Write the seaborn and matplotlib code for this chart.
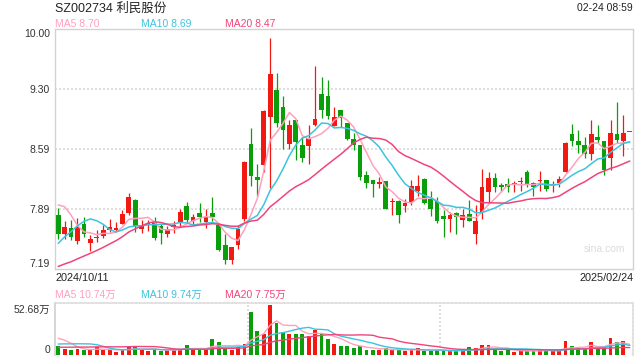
import numpy as np
import pandas as pd
import matplotlib
matplotlib.use("Agg")
import matplotlib.pyplot as plt
import matplotlib.transforms as mtransforms
import seaborn as sns

# ---------------- data ----------------
title = "SZ002734 利民股份"
stamp = "02-24 08:59"
start_label = "2024/10/11"
end_label = "2025/02/24"

opens = [7.82, 7.60, 7.665, 7.52, 7.715, 7.49, 7.555, 7.575, 7.645, 7.65,
         7.72, 7.85, 8.00, 7.66, 7.70, 7.74, 7.695, 7.605, 7.685, 7.725,
         7.925, 7.755, 7.845, 7.745, 7.84, 7.70, 7.47, 7.295, 7.47, 7.775,
         8.655, 8.27, 8.41, 8.97, 9.285, 9.085, 8.655, 8.935, 8.64, 8.635,
         8.875, 9.24, 9.215, 8.865, 9.05, 8.90, 8.71, 8.64, 8.29, 8.23,
         8.185, 8.22, 7.975, 7.985, 7.93, 7.98, 8.105, 8.245, 8.01, 7.985,
         7.815, 7.78, 7.84, 7.765, 7.835, 7.60, 7.86, 8.095, 8.25, 8.175,
         8.18, 8.185, 8.205, 8.33, 8.195, 8.215, 8.23, 8.165, 8.20, 8.32,
         8.77, 8.69, 8.64, 8.535, 8.73, 8.69, 8.495, 8.765, 8.69, 8.79]
closes = [7.60, 7.68, 7.565, 7.68, 7.60, 7.54, 7.57, 7.645, 7.68, 7.67,
          7.835, 8.03, 7.695, 7.69, 7.725, 7.555, 7.61, 7.655, 7.70, 7.86,
          7.765, 7.80, 7.795, 7.80, 7.80, 7.41, 7.295, 7.45, 7.66, 8.445,
          8.28, 8.235, 9.045, 9.475, 8.905, 8.815, 8.875, 8.675, 8.485, 8.72,
          8.945, 9.05, 8.985, 8.965, 8.955, 8.71, 8.645, 8.27, 8.20, 8.185,
          8.21, 7.89, 7.99, 7.82, 7.96, 8.16, 8.16, 7.965, 7.895, 7.755,
          7.78, 7.82, 7.80, 7.82, 7.755, 7.75, 8.155, 8.25, 8.155, 8.155,
          8.155, 8.20, 8.215, 8.175, 8.145, 8.225, 8.13, 8.18, 8.24, 8.67,
          8.69, 8.64, 8.535, 8.77, 8.70, 8.35, 8.785, 8.70, 8.785, 8.79]
highs = [7.90, 7.75, 7.76, 7.79, 7.80, 7.59, 7.645, 7.71, 7.77, 7.74,
         7.88, 8.08, 8.015, 7.765, 7.765, 7.795, 7.715, 7.695, 7.75, 7.89,
         7.98, 7.83, 7.96, 7.89, 8.03, 7.70, 7.605, 7.45, 7.705, 8.455,
         8.845, 8.42, 9.05, 9.89, 9.49, 9.22, 8.935, 8.935, 8.73, 8.875,
         9.57, 9.44, 9.40, 9.09, 9.05, 8.90, 8.78, 8.64, 8.34, 8.23,
         8.265, 8.22, 8.025, 8.00, 8.015, 8.23, 8.29, 8.25, 8.105, 8.035,
         7.875, 7.86, 7.86, 7.89, 8.00, 7.945, 8.36, 8.33, 8.31, 8.20,
         8.25, 8.215, 8.27, 8.35, 8.21, 8.34, 8.23, 8.225, 8.28, 8.68,
         8.89, 8.815, 8.74, 8.94, 8.875, 8.69, 8.935, 9.145, 8.99, 8.79]
lows = [7.54, 7.545, 7.53, 7.48, 7.57, 7.405, 7.51, 7.555, 7.625, 7.63,
        7.715, 7.825, 7.625, 7.61, 7.64, 7.53, 7.485, 7.57, 7.61, 7.68,
        7.725, 7.70, 7.745, 7.675, 7.75, 7.40, 7.25, 7.25, 7.42, 7.75,
        8.16, 8.04, 8.33, 8.135, 8.85, 8.595, 8.60, 8.47, 8.44, 8.415,
        8.865, 8.96, 8.945, 8.865, 8.855, 8.70, 8.585, 8.23, 8.14, 8.035,
        8.14, 7.89, 7.82, 7.73, 7.855, 7.945, 8.045, 7.95, 7.81, 7.725,
        7.57, 7.62, 7.60, 7.685, 7.755, 7.485, 7.77, 7.965, 8.095, 8.105,
        8.095, 8.09, 8.105, 8.155, 8.045, 8.105, 8.10, 8.09, 8.155, 8.32,
        8.635, 8.55, 8.485, 8.465, 8.66, 8.29, 8.35, 8.66, 8.515, 8.79]
# volume in 万 (10k shares)
volumes = [9.5, 6.3, 5.3, 6.3, 5.3, 5.3, 8.1, 5.3, 5.3, 3.5,
           5.3, 8.8, 8.8, 5.3, 4.2, 6.0, 4.2, 5.3, 6.0, 6.0,
           10.5, 6.0, 6.0, 5.3, 16.9, 14.0, 7.0, 5.3, 8.1, 11.6,
           45.7, 25.3, 21.8, 52.68, 34.1, 24.2, 22.5, 22.5, 22.5, 20.0,
           26.3, 22.8, 16.9, 11.6, 9.5, 9.5, 7.7, 9.5, 5.3, 5.3,
           5.3, 7.0, 5.3, 5.3, 4.2, 5.3, 7.0, 4.2, 4.2, 5.3,
           4.2, 4.2, 4.2, 5.3, 8.1, 7.0, 10.5, 10.5, 6.0, 4.2,
           5.3, 3.5, 4.2, 4.2, 4.2, 5.3, 5.3, 4.2, 4.2, 14.8,
           9.5, 7.0, 6.0, 14.0, 8.1, 8.8, 18.3, 14.0, 14.8, 0.0]
# sessions before the window (needed for the moving averages at the left edge)
warmup_closes = [7.10, 7.05, 7.00, 6.95, 6.90, 6.90, 6.92, 6.88, 6.90, 6.90,
                 6.92, 6.95, 7.00, 7.08, 7.25, 7.78, 8.065, 8.28, 7.975]
warmup_volumes = [4.5, 4.6, 4.4, 4.7, 4.5, 4.6, 4.8, 4.5, 4.6, 4.8,
                  5.0, 5.2, 5.5, 5.8, 6.5, 16.0, 22.0, 24.5, 16.0]

price_ticks = [10.00, 9.30, 8.59, 7.89, 7.19]
price_tick_labels = ["10.00", "9.30", "8.59", "7.89", "7.19"]
vol_ticks = [52.68, 0]
vol_tick_labels = ["52.68万", "0"]
ma_windows = [5, 10, 20]
ma_price_labels = ["MA5 8.70", "MA10 8.69", "MA20 8.47"]
ma_vol_labels = ["MA5 10.74万", "MA10 9.74万", "MA20 7.75万"]

# ---------------- style ----------------
sns.set_theme(style="white")
plt.rcParams["font.family"] = ["Liberation Sans", "Noto Sans CJK SC", "DejaVu Sans"]

RED = "#f01a12"
GREEN = "#0a9e0a"
MA_COLORS = ["#ffa0bd", "#3cc4df", "#f0457a"]
GRID = "#d9d9d9"
SPINE = "#d2d2d2"

n = len(closes)
x = np.arange(n) + 0.5
o = np.array(opens); c = np.array(closes); h = np.array(highs); l = np.array(lows)
v = np.array(volumes)
up = c > o
cols = np.where(up, RED, GREEN)

full_c = pd.Series(warmup_closes + closes)
full_v = pd.Series(warmup_volumes + volumes)
rows = []
for w in ma_windows:
    mc = full_c.rolling(w).mean().to_numpy()[-n:]
    mv = full_v.rolling(w).mean().to_numpy()[-n:]
    for xi, a, b in zip(x, mc, mv):
        rows.append({"x": xi, "ma": f"MA{w}", "price": a, "vol": b})
ma_df = pd.DataFrame(rows)
palette = {f"MA{w}": col for w, col in zip(ma_windows, MA_COLORS)}

fig = plt.figure(figsize=(6.4, 3.6), dpi=100)
fig.patch.set_facecolor("white")
ax = fig.add_axes([55 / 640, 1 - 269 / 360, 578 / 640, 240 / 360])
axv = fig.add_axes([55 / 640, 1 - 355 / 360, 578 / 640, 52 / 360])

# ---------------- price panel ----------------
ax.set_xlim(0, n)
ax.set_ylim(7.19, 10.00)
for t in price_ticks[1:-1]:
    ax.axhline(t, color=GRID, lw=1.2, ls=(0, (1.2, 1.2)), zorder=0)

ax.vlines(x, l, h, colors=cols, lw=0.9, zorder=2)
body_h = np.maximum(np.abs(c - o), 0.012)
body_b = np.minimum(o, c)
ax.bar(x, body_h, bottom=body_b, width=0.74, color=cols, linewidth=0, zorder=3)

sns.lineplot(data=ma_df, x="x", y="price", hue="ma", palette=palette,
             ax=ax, legend=False, lw=1.1, zorder=4)

ax.set_yticks(price_ticks)
ax.set_yticklabels(price_tick_labels)
ax.set_xticks([])
ax.set_xlabel(""); ax.set_ylabel("")
ax.tick_params(axis="y", length=0, pad=3.5, labelsize=7.5, labelcolor="#333333")
ylabels = ax.get_yticklabels()
ylabels[0].set_va("top")
ylabels[-1].set_va("bottom")
for s in ax.spines.values():
    s.set_color(SPINE); s.set_linewidth(1.0)

ax.text(0.987, 0.085, "sina.com", transform=ax.transAxes, ha="right", va="center",
        fontsize=7.5, color="#dcdcdc")

# ---------------- volume panel ----------------
axv.set_xlim(0, n)
axv.set_ylim(0, 52.68 * 52 / 50)
axv.bar(x, v, width=0.6, color=cols, linewidth=0, zorder=2)
sns.lineplot(data=ma_df, x="x", y="vol", hue="ma", palette=palette,
             ax=axv, legend=False, lw=1.0, zorder=3)
for xv in [n / 3, 2 * n / 3]:
    axv.axvline(xv, color=GRID, lw=1.2, ls=(0, (1.2, 1.2)), zorder=0)
axv.set_yticks(vol_ticks)
axv.set_yticklabels(vol_tick_labels)
axv.set_xticks([])
axv.set_xlabel(""); axv.set_ylabel("")
axv.tick_params(axis="y", length=0, pad=3.5, labelsize=7.5, labelcolor="#333333")
vlabels = axv.get_yticklabels()
vlabels[0].set_va("top")
vlabels[1].set_va("bottom")
axv.spines["bottom"].set_visible(False)
axv.spines["left"].set_color(SPINE)
for side in ["top", "right"]:
    axv.spines[side].set_color(GRID)
    axv.spines[side].set_linewidth(1.2)
    axv.spines[side].set_linestyle((0, (1.2, 1.2)))

# ---------------- header texts ----------------
def fx(px):
    return px / 640
def fy(py):
    return 1 - py / 360

fig.text(fx(55), fy(9), title, ha="left", va="center", fontsize=9, color="#222222")
fig.text(fx(633), fy(8), stamp, ha="right", va="center", fontsize=7.5, color="#222222")
for xs, lab, col in zip([55, 141, 225], ma_price_labels, MA_COLORS):
    fig.text(fx(xs), fy(24), lab, ha="left", va="center", fontsize=7.5, color=col)
fig.text(fx(55), fy(278), start_label, ha="left", va="center", fontsize=7.8, color="#222222")
fig.text(fx(634), fy(278), end_label, ha="right", va="center", fontsize=7.8, color="#222222")
for xs, lab, col in zip([55, 141, 225], ma_vol_labels, MA_COLORS):
    fig.text(fx(xs), fy(295), lab, ha="left", va="center", fontsize=7.5, color=col)

fig.savefig("out.png", dpi=100, facecolor="white")
